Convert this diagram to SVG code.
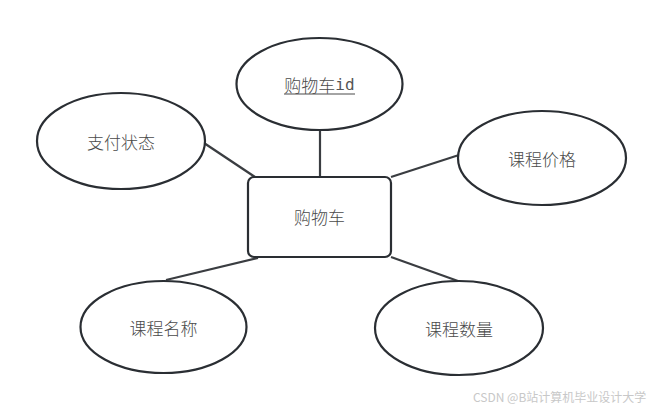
<svg xmlns="http://www.w3.org/2000/svg" width="663" height="412" viewBox="0 0 663 412">
<style>
.shape{fill:#fff;stroke:#2a2e33;stroke-width:2.2}
.line{stroke:#3a3d41;stroke-width:2.2;fill:none}
.t{font-family:"Noto Sans CJK SC","DejaVu Sans",sans-serif;font-size:17px;font-weight:300;fill:#4a4a4a;text-anchor:middle;dominant-baseline:central}
.m{font-family:"DejaVu Sans Mono","Liberation Mono",monospace;font-weight:normal;font-size:16px;fill:#555}
.wm{font-family:"Noto Sans CJK SC","Liberation Sans",sans-serif;font-size:12px;fill:#c8c8c8}
</style>
<rect width="663" height="412" fill="#fff"/>
<g id="connectors">
<line class="line" x1="320" y1="130" x2="320" y2="177"/>
<line class="line" x1="204" y1="143" x2="255" y2="177"/>
<line class="line" x1="459" y1="155" x2="391" y2="177"/>
<line class="line" x1="166" y1="280" x2="258" y2="258"/>
<line class="line" x1="391" y1="257" x2="458" y2="281"/>
</g>
<g id="cart">
<rect class="shape" x="248" y="177" width="143" height="80" rx="6"/>
<text class="t" x="319.5" y="216">购物车</text>
</g>
<g id="cart-id">
<ellipse class="shape" cx="319.5" cy="84" rx="83" ry="46"/>
<text class="t" x="319.5" y="84">购物车<tspan class="m">id</tspan></text>
<line x1="284" y1="94" x2="355" y2="94" stroke="#4a4a4a" stroke-width="1.2"/>
</g>
<g id="pay-status">
<ellipse class="shape" cx="121" cy="141" rx="84" ry="48"/>
<text class="t" x="121" y="141">支付状态</text>
</g>
<g id="course-price">
<ellipse class="shape" cx="542" cy="158" rx="84" ry="47"/>
<text class="t" x="542" y="158">课程价格</text>
</g>
<g id="course-name">
<ellipse class="shape" cx="163.5" cy="327" rx="83" ry="46"/>
<text class="t" x="163.5" y="327">课程名称</text>
</g>
<g id="course-qty">
<ellipse class="shape" cx="459" cy="328" rx="84" ry="47"/>
<text class="t" x="459" y="328">课程数量</text>
</g>
<text class="wm" x="473" y="402">CSDN @B站计算机毕业设计大学</text>
</svg>
